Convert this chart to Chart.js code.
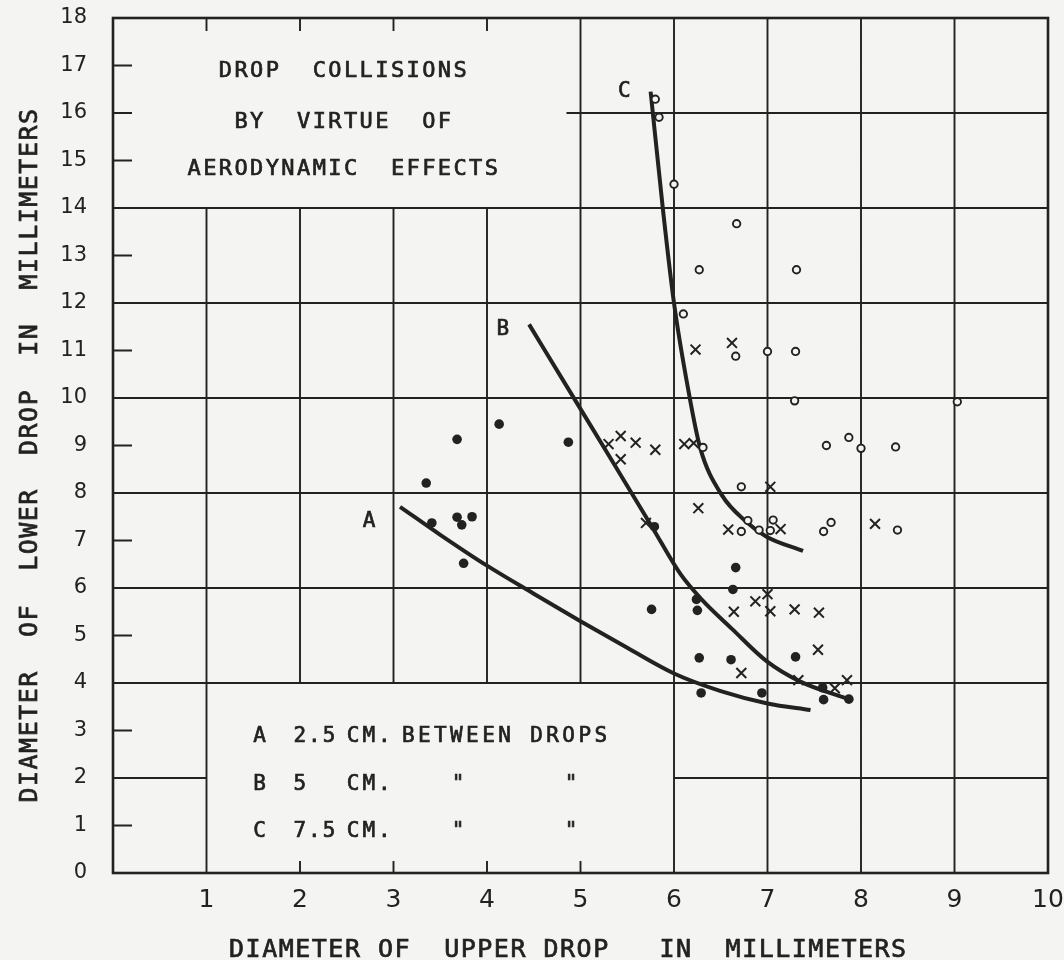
<!DOCTYPE html>
<html>
<head>
<meta charset="utf-8">
<title>Drop collisions by virtue of aerodynamic effects</title>
<script src="https://cdn.jsdelivr.net/npm/chart.js@4/dist/chart.umd.min.js"></script>
<style>
  html, body { margin: 0; padding: 0; background: #f4f4f2; }
  canvas { display: block; }
</style>
</head>
<body>
<canvas id="chart" width="1064" height="960"></canvas>
<script>
// Axis tick labels
const xTickLabels = ['1', '2', '3', '4', '5', '6', '7', '8', '9', '10'];
const yTickLabels = ['0', '1', '2', '3', '4', '5', '6', '7', '8', '9', '10',
                     '11', '12', '13', '14', '15', '16', '17', '18'];

// Observed drop pairs [upper drop diameter, lower drop diameter], mm
const solidDots = [
  [4.13, 9.45], [3.68, 9.13], [4.87, 9.07], [3.35, 8.21], [3.41, 7.37],
  [3.68, 7.49], [3.73, 7.33], [3.84, 7.50], [3.75, 6.52], [5.79, 7.29],
  [6.66, 6.43], [6.63, 5.97], [6.24, 5.76], [6.25, 5.53], [5.76, 5.55],
  [6.27, 4.53], [6.61, 4.49], [7.30, 4.55], [6.29, 3.79], [6.94, 3.79],
  [7.59, 3.90], [7.60, 3.65], [7.87, 3.66]
];
const crossMarks = [
  [5.30, 9.03], [5.43, 9.20], [5.59, 9.06], [5.43, 8.71], [5.80, 8.91],
  [6.11, 9.03], [6.21, 9.05], [7.03, 8.13], [6.26, 7.68], [5.70, 7.37],
  [6.58, 7.23], [7.14, 7.24], [8.15, 7.35], [6.23, 11.02], [6.62, 11.16],
  [7.00, 5.87], [6.87, 5.72], [6.64, 5.50], [7.03, 5.51], [7.29, 5.55],
  [7.55, 5.48], [7.54, 4.70], [6.72, 4.21], [7.33, 4.06], [7.72, 3.89],
  [7.85, 4.06]
];
const openCircles = [
  [5.80, 16.29], [5.84, 15.91], [6.00, 14.50], [6.67, 13.67], [6.27, 12.70],
  [7.31, 12.70], [6.10, 11.77], [6.66, 10.88], [7.00, 10.98], [7.30, 10.98],
  [7.29, 9.94], [9.03, 9.92], [6.31, 8.96], [7.63, 9.00], [7.87, 9.17],
  [8.00, 8.94], [8.37, 8.97], [6.72, 8.13], [6.79, 7.42], [6.72, 7.19],
  [6.91, 7.22], [7.03, 7.21], [7.06, 7.43], [7.60, 7.19], [7.68, 7.38],
  [8.39, 7.22]
];

// Boundary curves for the three separations
const curveA = [
  [3.07, 7.71], [3.50, 7.12], [4.00, 6.47], [4.50, 5.88], [5.00, 5.30],
  [5.50, 4.74], [6.00, 4.20], [6.50, 3.83], [7.00, 3.57], [7.46, 3.43]
];
const curveB = [
  [4.45, 11.55], [4.91, 10.06], [5.30, 8.80], [5.77, 7.27], [6.07, 6.29],
  [6.30, 5.75], [6.62, 5.14], [6.99, 4.46], [7.34, 4.04], [7.88, 3.65]
];
const curveC = [
  [5.75, 16.45], [5.88, 14.00], [6.00, 12.00], [6.15, 10.20], [6.28, 8.95],
  [6.51, 7.96], [6.77, 7.40], [6.99, 7.08], [7.38, 6.78]
];

// Lettering
const titleLines = ['DROP  COLLISIONS', 'BY  VIRTUE  OF', 'AERODYNAMIC  EFFECTS'];
const curveLetters = ['A', 'B', 'C'];
const separations = ['2.5', '5', '7.5'];
const xAxisTitle = 'DIAMETER OF  UPPER DROP   IN  MILLIMETERS';
const yAxisTitle = 'DIAMETER  OF  LOWER  DROP  IN  MILLIMETERS';

// Ruling of the graph sheet: [value, from, to] in data units
const verticalRules = [
  [1, 0, 14], [2, 4, 14], [3, 4, 14], [4, 4, 14], [5, 4, 18],
  [6, 0, 18], [7, 0, 18], [8, 0, 18], [9, 0, 18]
];
const horizontalRules = [
  [2, 0, 1], [2, 6, 10], [4, 0, 10], [6, 0, 10], [8, 0, 10],
  [10, 0, 10], [12, 0, 10], [14, 0, 10], [16, 4.85, 10]
];
const leftTicks = [1, 3, 5, 7, 9, 11, 13, 15, 16, 17];
const bottomTicks = [2, 3, 4, 5];
const topTicks = [1, 2, 3, 4];

const INK = '#222222';
const PAPER = '#f4f4f2';
const MONO = '"DejaVu Sans Mono", "Liberation Mono", monospace';
const SANS = '"DejaVu Sans", "Liberation Sans", sans-serif';

const toPoints = arr => arr.map(([x, y]) => ({ x, y }));

// Pen lettering: a light outline gives the strokes a drawn weight
function letter(ctx, str, x, y, size, spacing, align) {
  ctx.font = size + 'px ' + MONO;
  ctx.letterSpacing = spacing + 'px';
  ctx.textAlign = align || 'left';
  ctx.textBaseline = 'alphabetic';
  ctx.fillText(str, x, y);
  ctx.lineWidth = 0.7;
  ctx.strokeText(str, x, y);
}

const sheet = {
  id: 'sheet',
  beforeDraw(chart) {
    const { ctx, width, height } = chart;
    ctx.save();
    ctx.fillStyle = PAPER;
    ctx.fillRect(0, 0, width, height);
    ctx.restore();
  },
  beforeDatasetsDraw(chart) {
    const { ctx, chartArea: a, scales: { x, y } } = chart;
    const X = v => x.getPixelForValue(v);
    const Y = v => y.getPixelForValue(v);
    ctx.save();

    // grid rules and short ticks
    ctx.strokeStyle = INK;
    ctx.lineWidth = 1.9;
    ctx.beginPath();
    for (const [v, y0, y1] of verticalRules) { ctx.moveTo(X(v), Y(y0)); ctx.lineTo(X(v), Y(y1)); }
    for (const [v, x0, x1] of horizontalRules) { ctx.moveTo(X(x0), Y(v)); ctx.lineTo(X(x1), Y(v)); }
    for (const v of leftTicks) { ctx.moveTo(a.left, Y(v)); ctx.lineTo(a.left + 19, Y(v)); }
    for (const v of bottomTicks) { ctx.moveTo(X(v), a.bottom); ctx.lineTo(X(v), a.bottom - 12); }
    for (const v of topTicks) { ctx.moveTo(X(v), a.top); ctx.lineTo(X(v), a.top + 13); }
    ctx.stroke();

    // frame
    ctx.lineWidth = 2.6;
    ctx.strokeRect(a.left, a.top, a.right - a.left, a.bottom - a.top);

    ctx.fillStyle = INK;

    // title block
    const titleBase = [16.76, 15.68, 14.69];
    titleLines.forEach((t, i) => letter(ctx, t, X(2.47), Y(titleBase[i]), 22, 2.4, 'center'));

    // curve letters
    const letterPos = [[2.74, 7.28], [4.17, 11.33], [5.47, 16.34]];
    curveLetters.forEach((t, i) => letter(ctx, t, X(letterPos[i][0]), Y(letterPos[i][1]), 21, 0, 'center'));

    // key
    const rowBase = [2.76, 1.75, 0.76];
    curveLetters.forEach((t, i) => {
      const yb = Y(rowBase[i]);
      letter(ctx, t, X(1.50), yb, 21, 3.4);
      letter(ctx, separations[i], X(1.93), yb, 21, 2.0);
      letter(ctx, 'CM.', X(2.50), yb, 21, 3.0);
      if (i === 0) {
        letter(ctx, 'BETWEEN DROPS', X(3.09), yb, 21, 3.4);
      } else {
        letter(ctx, '"', X(3.69), yb, 21, 0, 'center');
        letter(ctx, '"', X(4.90), yb, 21, 0, 'center');
      }
    });

    // axis titles
    letter(ctx, xAxisTitle, X(4.87), a.bottom + 84, 25, 1.5, 'center');
    ctx.save();
    ctx.translate(a.left - 76, Y(8.8));
    ctx.rotate(-Math.PI / 2);
    letter(ctx, yAxisTitle, 0, 0, 25, 1.5, 'center');
    ctx.restore();

    ctx.restore();
  }
};

const curveStyle = {
  showLine: true,
  pointRadius: 0,
  borderColor: INK,
  borderWidth: 4,
  cubicInterpolationMode: 'monotone',
  fill: false
};

new Chart(document.getElementById('chart'), {
  type: 'scatter',
  data: {
    datasets: [
      { label: 'solid', data: toPoints(solidDots), pointStyle: 'circle', pointRadius: 4.8,
        backgroundColor: INK, borderColor: INK, borderWidth: 0 },
      { label: 'cross', data: toPoints(crossMarks), pointStyle: 'crossRot', pointRadius: 7,
        borderColor: INK, borderWidth: 2 },
      { label: 'open', data: toPoints(openCircles), pointStyle: 'circle', pointRadius: 3.7,
        backgroundColor: PAPER, borderColor: INK, borderWidth: 1.9 },
      Object.assign({ label: 'A', data: toPoints(curveA) }, curveStyle),
      Object.assign({ label: 'B', data: toPoints(curveB) }, curveStyle),
      Object.assign({ label: 'C', data: toPoints(curveC) }, curveStyle)
    ]
  },
  options: {
    responsive: false,
    animation: false,
    devicePixelRatio: 1,
    layout: { padding: { left: 0, right: 16, top: 18, bottom: 0 } },
    plugins: { legend: { display: false }, tooltip: { enabled: false } },
    scales: {
      x: {
        type: 'linear', min: 0, max: 10,
        afterBuildTicks: s => { s.ticks = xTickLabels.map(t => ({ value: Number(t) })); },
        afterFit: s => { s.height = 87; s.paddingLeft = 0; s.paddingRight = 0; },
        ticks: {
          callback: v => xTickLabels[xTickLabels.indexOf(String(v))],
          color: INK, padding: 12, maxRotation: 0, autoSkip: false,
          font: { family: SANS, size: 25 }
        },
        grid: { display: false, drawTicks: false },
        border: { display: false }
      },
      y: {
        type: 'linear', min: 0, max: 18,
        afterBuildTicks: s => { s.ticks = yTickLabels.map(t => ({ value: Number(t) })); },
        afterFit: s => { s.width = 113; s.paddingTop = 0; s.paddingBottom = 0; },
        ticks: {
          callback: v => yTickLabels[yTickLabels.indexOf(String(v))],
          color: INK, padding: 26, autoSkip: false,
          font: { family: SANS, size: 21 }
        },
        grid: { display: false, drawTicks: false },
        border: { display: false }
      }
    }
  },
  plugins: [sheet]
});
</script>
</body>
</html>
